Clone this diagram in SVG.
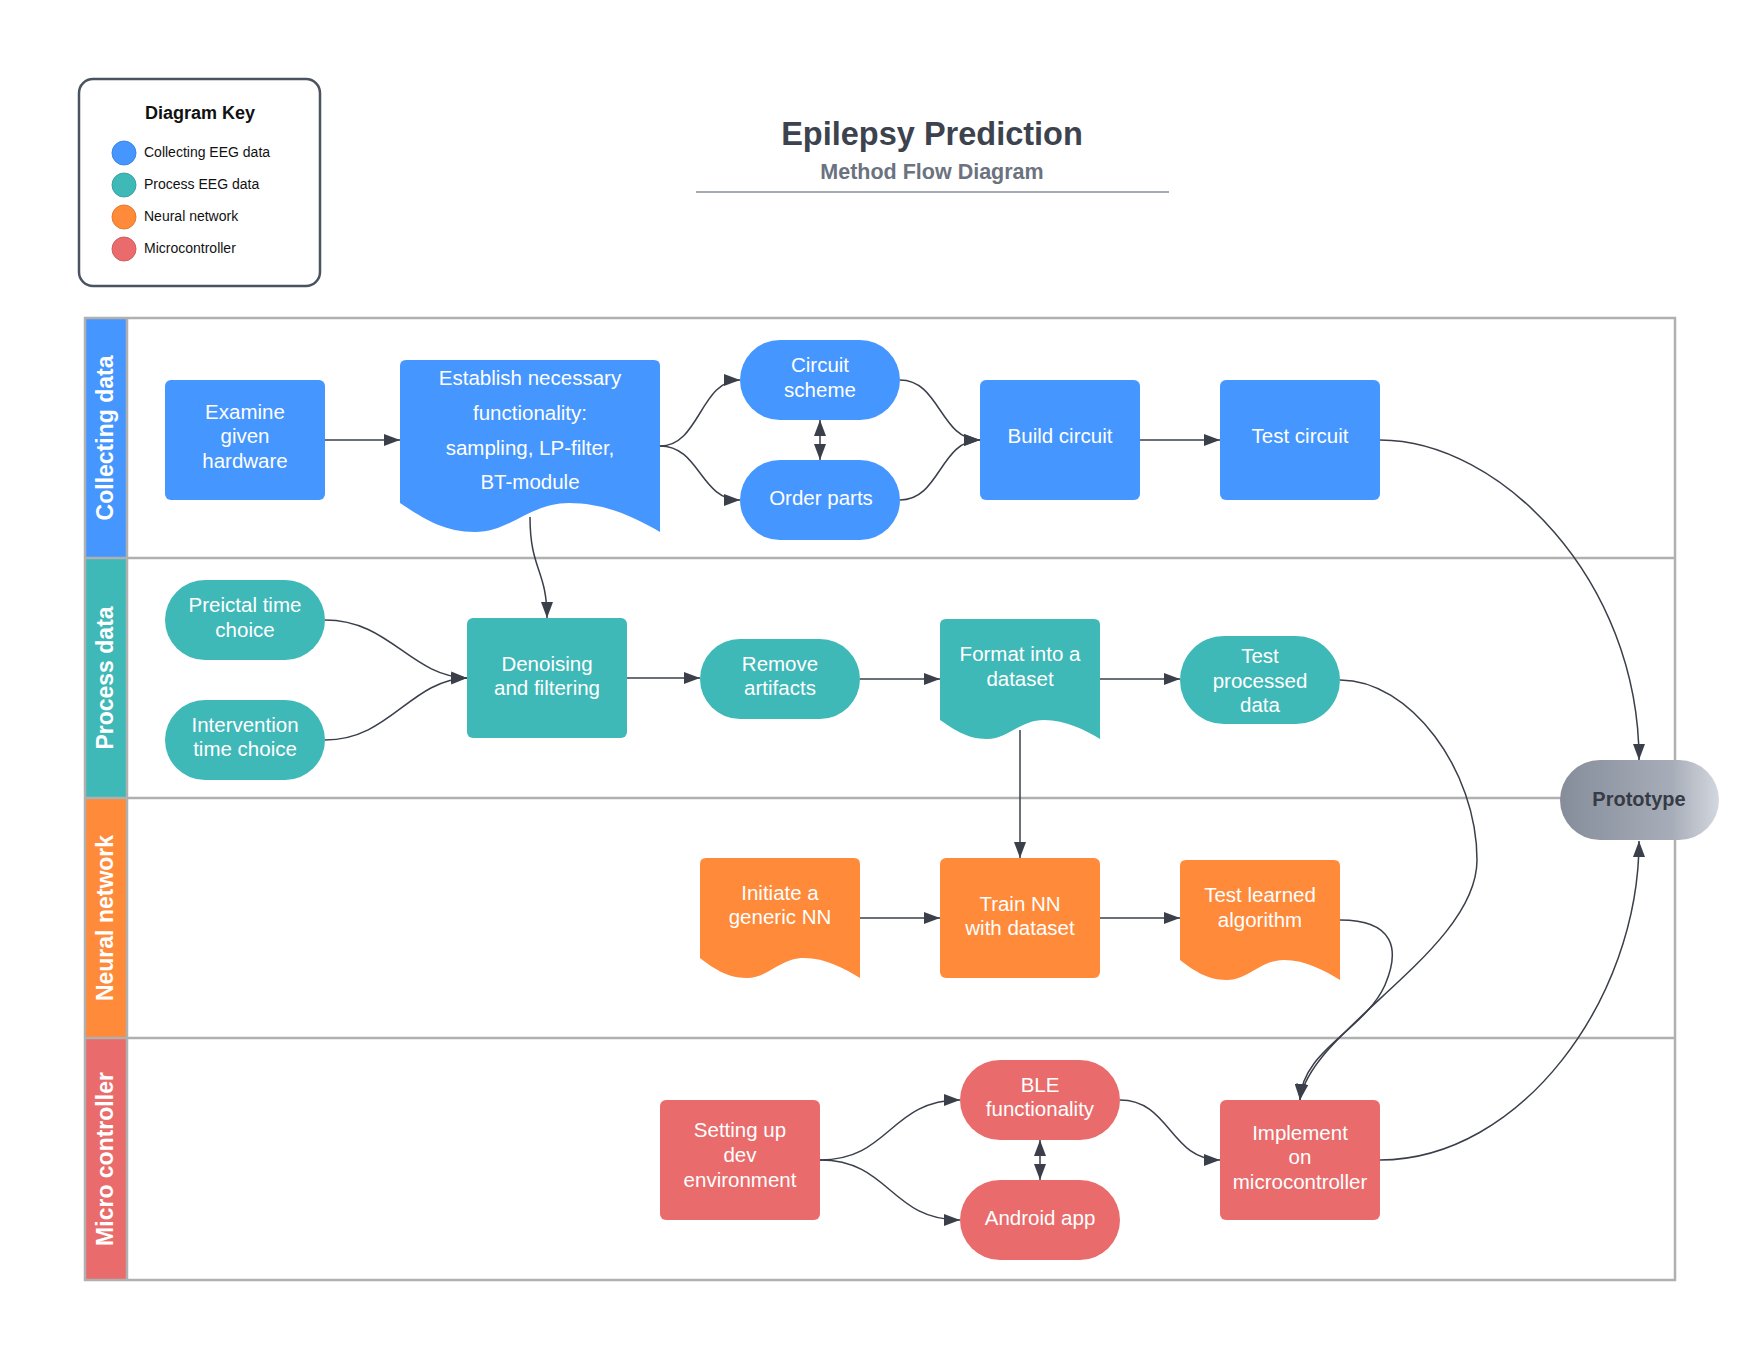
<svg xmlns="http://www.w3.org/2000/svg" width="1760" height="1360" viewBox="0 0 1760 1360">
<style>
  .bg { fill: #ffffff; }
  .lane { fill: none; stroke: #b0b0b0; stroke-width: 2.5; }
  .lanelabel { font-family: "Liberation Sans", Arial, sans-serif; font-size: 23px; font-weight: bold; fill: #ffffff; text-anchor: middle; }
  .nt { font-family: "Liberation Sans", Arial, sans-serif; font-size: 20.5px; fill: #ffffff; text-anchor: middle; }
  .blue { fill: #4596fe; }
  .teal { fill: #3fb8b8; }
  .orange { fill: #fe8a3a; }
  .red { fill: #e96b6b; }
  .conn { fill: none; stroke: #3a3f4a; stroke-width: 1.5; }
  .legtext { font-family: "Liberation Sans", Arial, sans-serif; font-size: 14px; fill: #111111; }
  .legdot { stroke-width: 1; }
</style>
<defs>
  <marker id="arrow" markerUnits="userSpaceOnUse" markerWidth="16" markerHeight="12" viewBox="0 0 16 12" refX="16" refY="6" orient="auto-start-reverse">
    <path d="M0,0 L16,6 L0,12 Z" fill="#3a3f4a"/>
  </marker>
  <linearGradient id="protoGrad" x1="0" y1="0" x2="1" y2="0">
    <stop offset="0" stop-color="#858d9b"/>
    <stop offset="0.7" stop-color="#a7adb8"/>
    <stop offset="1" stop-color="#d3d7de"/>
  </linearGradient>
</defs>
<rect class="bg" x="0" y="0" width="1760" height="1360"/>

<!-- Legend -->
<g id="legend">
  <rect x="79" y="79" width="241" height="207" rx="14" fill="#ffffff" stroke="#4b5260" stroke-width="2.5"/>
  <text x="200" y="119" font-family="Liberation Sans, Arial, sans-serif" font-size="18" font-weight="bold" fill="#111111" text-anchor="middle">Diagram Key</text>
  <circle class="legdot" cx="124" cy="153" r="12" fill="#4596fe" stroke="#3d86e6"/>
  <text class="legtext" x="144" y="157">Collecting EEG data</text>
  <circle class="legdot" cx="124" cy="185" r="12" fill="#3fb8b8" stroke="#36a4a4"/>
  <text class="legtext" x="144" y="189">Process EEG data</text>
  <circle class="legdot" cx="124" cy="217" r="12" fill="#fe8a3a" stroke="#e67a30"/>
  <text class="legtext" x="144" y="221">Neural network</text>
  <circle class="legdot" cx="124" cy="249" r="12" fill="#e96b6b" stroke="#d25e5e"/>
  <text class="legtext" x="144" y="253">Microcontroller</text>
</g>

<!-- Title -->
<g id="title">
  <text x="932" y="145" font-family="Liberation Sans, Arial, sans-serif" font-size="32.5" font-weight="bold" fill="#3d434e" text-anchor="middle">Epilepsy Prediction</text>
  <text x="932" y="179" font-family="Liberation Sans, Arial, sans-serif" font-size="21.5" font-weight="bold" fill="#6b7280" text-anchor="middle">Method Flow Diagram</text>
  <line x1="696" y1="192" x2="1169" y2="192" stroke="#a5abb5" stroke-width="2"/>
</g>

<!-- Swimlanes -->
<g id="lanes">
  <rect x="85" y="318" width="42" height="240" class="blue"/>
  <rect x="85" y="558" width="42" height="240" class="teal"/>
  <rect x="85" y="798" width="42" height="240" class="orange"/>
  <rect x="85" y="1038" width="42" height="242" class="red"/>
  <rect class="lane" x="85" y="318" width="1590" height="962"/>
  <line class="lane" x1="127" y1="318" x2="127" y2="1280"/>
  <line class="lane" x1="85" y1="558" x2="1675" y2="558"/>
  <line class="lane" x1="85" y1="798" x2="1675" y2="798"/>
  <line class="lane" x1="85" y1="1038" x2="1675" y2="1038"/>
  <text class="lanelabel" transform="translate(113,438) rotate(-90)">Collecting data</text>
  <text class="lanelabel" transform="translate(113,678) rotate(-90)">Process data</text>
  <text class="lanelabel" transform="translate(113,918) rotate(-90)">Neural network</text>
  <text class="lanelabel" transform="translate(113,1159) rotate(-90)">Micro controller</text>
</g>

<!-- Connectors -->
<g id="connectors">
  <path class="conn" d="M325,440 H400" marker-end="url(#arrow)"/>
  <path class="conn" d="M660,446 C700,446 700,380 740,380" marker-end="url(#arrow)"/>
  <path class="conn" d="M660,446 C700,446 700,500 740,500" marker-end="url(#arrow)"/>
  <path class="conn" d="M820,420 V460" marker-start="url(#arrow)" marker-end="url(#arrow)"/>
  <path class="conn" d="M900,380 C940,380 940,440 980,440" marker-end="url(#arrow)"/>
  <path class="conn" d="M900,500 C940,500 940,440 980,440" marker-end="url(#arrow)"/>
  <path class="conn" d="M1140,440 H1220" marker-end="url(#arrow)"/>
  <path class="conn" d="M1380,440 C1500,440 1639,580 1639,760" marker-end="url(#arrow)"/>
  <path class="conn" d="M530,517 C530,570 547,570 547,618" marker-end="url(#arrow)"/>
  <path class="conn" d="M325,620 C390,620 410,676 467,678" marker-end="url(#arrow)"/>
  <path class="conn" d="M325,740 C390,740 410,680 467,678" marker-end="url(#arrow)"/>
  <path class="conn" d="M627,678 H700" marker-end="url(#arrow)"/>
  <path class="conn" d="M860,679 H940" marker-end="url(#arrow)"/>
  <path class="conn" d="M1100,679 H1180" marker-end="url(#arrow)"/>
  <path class="conn" d="M1020,730 V858" marker-end="url(#arrow)"/>
  <path class="conn" d="M1340,680 C1410,680 1477,770 1477,860 C1477,950 1310,1030 1300,1100" marker-end="url(#arrow)"/>
  <path class="conn" d="M860,918 H940" marker-end="url(#arrow)"/>
  <path class="conn" d="M1100,918 H1180" marker-end="url(#arrow)"/>
  <path class="conn" d="M1340,920 C1395,920 1400,950 1385,985 C1365,1030 1302,1050 1300,1100" marker-end="url(#arrow)"/>
  <path class="conn" d="M820,1160 C890,1160 890,1100 960,1100" marker-end="url(#arrow)"/>
  <path class="conn" d="M820,1160 C890,1160 890,1220 960,1220" marker-end="url(#arrow)"/>
  <path class="conn" d="M1040,1140 V1180" marker-start="url(#arrow)" marker-end="url(#arrow)"/>
  <path class="conn" d="M1120,1100 C1170,1100 1170,1160 1220,1160" marker-end="url(#arrow)"/>
  <path class="conn" d="M1380,1160 C1520,1160 1639,1000 1639,841" marker-end="url(#arrow)"/>
</g>

<!-- Lane 1 nodes -->
<g id="examine">
  <rect class="blue" x="165" y="380" width="160" height="120" rx="6"/>
  <text class="nt"><tspan x="245" y="419">Examine</tspan><tspan x="245" y="443">given</tspan><tspan x="245" y="468">hardware</tspan></text>
</g>
<g id="establish">
  <path class="blue" d="M400,366 Q400,360 406,360 H654 Q660,360 660,366 V532 C636,518 606,503 569,503 C530,503 510,532 475,532 C442,532 420,516 400,503 Z"/>
  <text class="nt"><tspan x="530" y="385">Establish necessary</tspan><tspan x="530" y="420">functionality:</tspan><tspan x="530" y="455">sampling, LP-filter,</tspan><tspan x="530" y="489">BT-module</tspan></text>
</g>
<g id="circuit-scheme">
  <rect class="blue" x="740" y="340" width="160" height="80" rx="40"/>
  <text class="nt"><tspan x="820" y="372">Circuit</tspan><tspan x="820" y="397">scheme</tspan></text>
</g>
<g id="order-parts">
  <rect class="blue" x="740" y="460" width="160" height="80" rx="40"/>
  <text class="nt"><tspan x="821" y="505">Order parts</tspan></text>
</g>
<g id="build-circuit">
  <rect class="blue" x="980" y="380" width="160" height="120" rx="6"/>
  <text class="nt"><tspan x="1060" y="443">Build circuit</tspan></text>
</g>
<g id="test-circuit">
  <rect class="blue" x="1220" y="380" width="160" height="120" rx="6"/>
  <text class="nt"><tspan x="1300" y="443">Test circuit</tspan></text>
</g>

<!-- Lane 2 nodes -->
<g id="preictal">
  <rect class="teal" x="165" y="580" width="160" height="80" rx="40"/>
  <text class="nt"><tspan x="245" y="612">Preictal time</tspan><tspan x="245" y="637">choice</tspan></text>
</g>
<g id="intervention">
  <rect class="teal" x="165" y="700" width="160" height="80" rx="40"/>
  <text class="nt"><tspan x="245" y="732">Intervention</tspan><tspan x="245" y="756">time choice</tspan></text>
</g>
<g id="denoising">
  <rect class="teal" x="467" y="618" width="160" height="120" rx="6"/>
  <text class="nt"><tspan x="547" y="671">Denoising</tspan><tspan x="547" y="695">and filtering</tspan></text>
</g>
<g id="remove-artifacts">
  <rect class="teal" x="700" y="639" width="160" height="80" rx="40"/>
  <text class="nt"><tspan x="780" y="671">Remove</tspan><tspan x="780" y="695">artifacts</tspan></text>
</g>
<g id="format-dataset">
  <path class="teal" d="M940,625 Q940,619 946,619 H1094 Q1100,619 1100,625 V739 C1085,730 1066,720 1044,720 C1020,720 1008,739 987,739 C966,739 952,728 940,720 Z"/>
  <text class="nt"><tspan x="1020" y="661">Format into a</tspan><tspan x="1020" y="686">dataset</tspan></text>
</g>
<g id="test-processed">
  <rect class="teal" x="1180" y="636" width="160" height="88" rx="44"/>
  <text class="nt"><tspan x="1260" y="663">Test</tspan><tspan x="1260" y="688">processed</tspan><tspan x="1260" y="712">data</tspan></text>
</g>

<!-- Lane 3 nodes -->
<g id="initiate-nn">
  <path class="orange" d="M700,864 Q700,858 706,858 H854 Q860,858 860,864 V978 C845,969 826,958 804,958 C780,958 768,978 747,978 C726,978 712,967 700,958 Z"/>
  <text class="nt"><tspan x="780" y="900">Initiate a</tspan><tspan x="780" y="924">generic NN</tspan></text>
</g>
<g id="train-nn">
  <rect class="orange" x="940" y="858" width="160" height="120" rx="6"/>
  <text class="nt"><tspan x="1020" y="911">Train NN</tspan><tspan x="1020" y="935">with dataset</tspan></text>
</g>
<g id="test-learned">
  <path class="orange" d="M1180,866 Q1180,860 1186,860 H1334 Q1340,860 1340,866 V980 C1325,971 1306,960 1284,960 C1260,960 1248,980 1227,980 C1206,980 1192,969 1180,960 Z"/>
  <text class="nt"><tspan x="1260" y="902">Test learned</tspan><tspan x="1260" y="927">algorithm</tspan></text>
</g>

<!-- Lane 4 nodes -->
<g id="setting-up">
  <rect class="red" x="660" y="1100" width="160" height="120" rx="6"/>
  <text class="nt"><tspan x="740" y="1137">Setting up</tspan><tspan x="740" y="1162">dev</tspan><tspan x="740" y="1187">environment</tspan></text>
</g>
<g id="ble">
  <rect class="red" x="960" y="1060" width="160" height="80" rx="40"/>
  <text class="nt"><tspan x="1040" y="1092">BLE</tspan><tspan x="1040" y="1116">functionality</tspan></text>
</g>
<g id="android-app">
  <rect class="red" x="960" y="1180" width="160" height="80" rx="40"/>
  <text class="nt"><tspan x="1040" y="1225">Android app</tspan></text>
</g>
<g id="implement">
  <rect class="red" x="1220" y="1100" width="160" height="120" rx="6"/>
  <text class="nt"><tspan x="1300" y="1140">Implement</tspan><tspan x="1300" y="1164">on</tspan><tspan x="1300" y="1189">microcontroller</tspan></text>
</g>

<!-- Prototype -->
<g id="prototype">
  <rect x="1560" y="760" width="159" height="80" rx="40" fill="url(#protoGrad)"/>
  <text x="1639" y="806" font-family="Liberation Sans, Arial, sans-serif" font-size="20" font-weight="bold" fill="#363b45" text-anchor="middle">Prototype</text>
</g>
</svg>
